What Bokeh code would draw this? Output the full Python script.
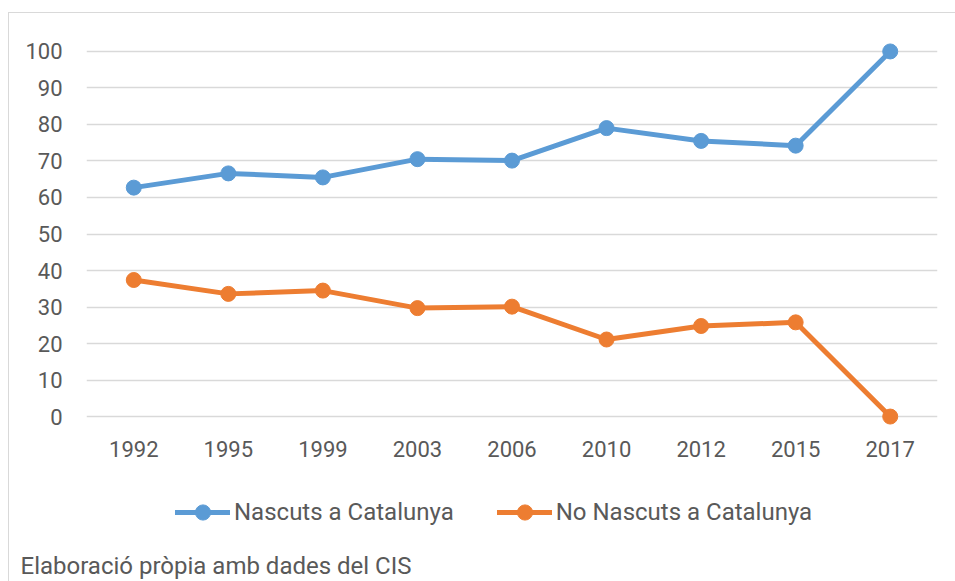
from bokeh.plotting import figure
from bokeh.layouts import column
from bokeh.models import FactorRange, Range1d, FixedTicker, Legend, LegendItem, Label
from bokeh.embed import file_html
from bokeh.resources import INLINE

years = ["1992", "1995", "1999", "2003", "2006", "2010", "2012", "2015", "2017"]
nascuts = [62.7, 66.6, 65.5, 70.5, 70.1, 79.0, 75.5, 74.2, 100.0]
no_nascuts = [37.4, 33.6, 34.5, 29.7, 30.1, 21.1, 24.8, 25.8, 0.0]
y_ticks = list(range(0, 101, 10))
series_names = ["Nascuts a Catalunya", "No Nascuts a Catalunya"]
source_text = "Elaboració pròpia amb dades del CIS"

BLUE = "#5B9BD5"
ORANGE = "#ED7D31"
TEXT = "#595959"
GRID = "#D9D9D9"
FONT = "Roboto"

# main chart
p = figure(width=946, height=457, x_range=FactorRange(*years), y_range=Range1d(-3, 103),
           output_backend="svg", toolbar_location=None,
           min_border_left=77, min_border_right=18, min_border_top=27, min_border_bottom=43)
p.outline_line_color = None
p.background_fill_color = "white"
p.border_fill_color = "white"

p.xgrid.grid_line_color = None
p.ygrid.grid_line_color = GRID
p.ygrid.grid_line_width = 1.5
p.yaxis.ticker = FixedTicker(ticks=y_ticks)

for ax in (p.xaxis[0], p.yaxis[0]):
    ax.axis_line_color = None
    ax.major_tick_line_color = None
    ax.minor_tick_line_color = None
    ax.major_tick_out = 0
    ax.major_tick_in = 0
    ax.major_label_text_font = FONT
    ax.major_label_text_font_size = "22px"
    ax.major_label_text_color = TEXT
p.yaxis.major_label_standoff = 24
p.xaxis.major_label_standoff = 13

p.line(years, nascuts, line_color=BLUE, line_width=5, line_join="round", line_cap="round")
p.scatter(years, nascuts, size=15, fill_color=BLUE, line_color=BLUE)
p.line(years, no_nascuts, line_color=ORANGE, line_width=5, line_join="round", line_cap="round")
p.scatter(years, no_nascuts, size=15, fill_color=ORANGE, line_color=ORANGE)

# legend + source strip
q = figure(width=946, height=111, x_range=Range1d(0, 1), y_range=Range1d(0, 1),
           output_backend="svg", toolbar_location=None,
           min_border_left=0, min_border_right=0, min_border_top=0, min_border_bottom=0)
shift = 0
if "frame_align" in q.properties():
    q.frame_align = False
else:
    shift = -77
q.axis.visible = False
q.grid.visible = False
q.outline_line_color = None
q.background_fill_color = "white"
q.border_fill_color = "white"

# off-range stand-ins so the legend can draw line + marker glyphs
dl1 = q.line([-5, -4], [-5, -5], line_color=BLUE, line_width=5, line_cap="round")
ds1 = q.scatter([-5], [-5], size=15, fill_color=BLUE, line_color=BLUE)
dl2 = q.line([-5, -4], [-5, -5], line_color=ORANGE, line_width=5, line_cap="round")
ds2 = q.scatter([-5], [-5], size=15, fill_color=ORANGE, line_color=ORANGE)

leg = Legend(items=[LegendItem(label=series_names[0], renderers=[dl1, ds1]),
                    LegendItem(label=series_names[1], renderers=[dl2, ds2])],
             location=(166 + shift, 50), orientation="horizontal", glyph_width=55, glyph_height=38,
             label_standoff=4, spacing=43, padding=0, margin=0, border_line_color=None,
             background_fill_alpha=0, label_text_font=FONT,
             label_text_font_size="24px", label_text_color=TEXT)
q.add_layout(leg)

q.add_layout(Label(x=11 + shift, y=16, x_units="screen", y_units="screen", text=source_text,
                   text_font=FONT, text_font_size="24px", text_color=TEXT,
                   text_baseline="middle"))

layout = column(p, q, spacing=0,
                styles={"margin-left": "8px", "margin-top": "12px",
                        "border-left": "1px solid #D9D9D9", "border-top": "1px solid #D9D9D9"})

open("out.html", "w").write(file_html(layout, INLINE))
